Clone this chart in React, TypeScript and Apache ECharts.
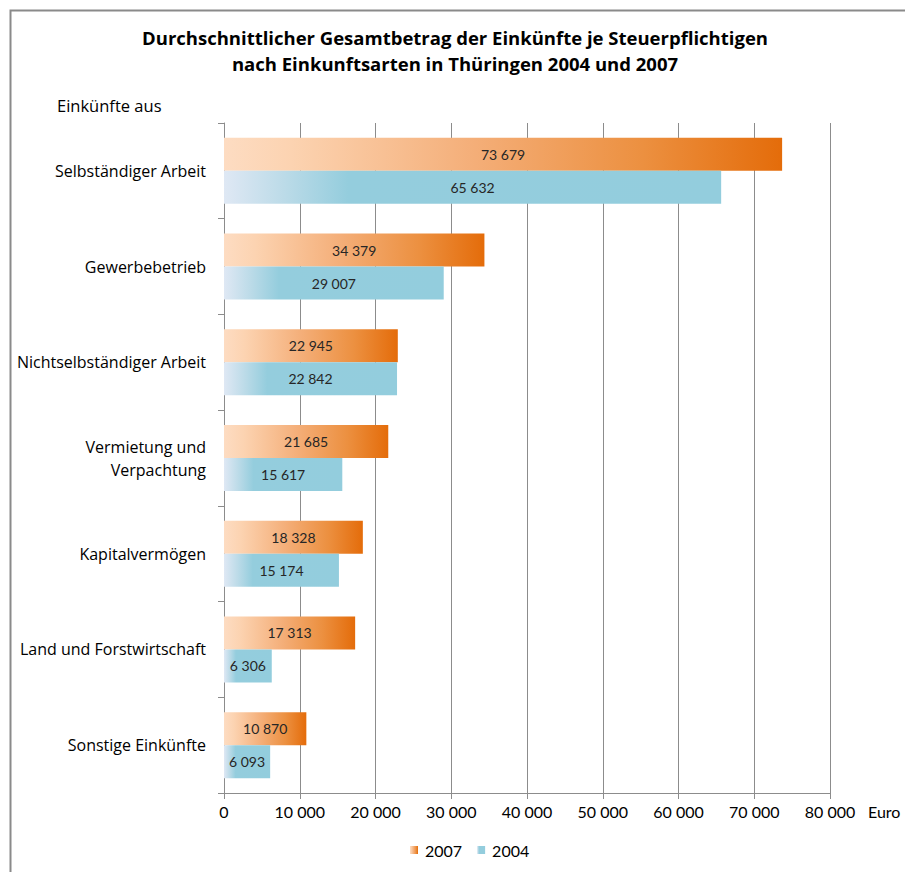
import React, { useEffect, useRef } from "react";
import * as echarts from "echarts";

const titleLines = [
  "Durchschnittlicher Gesamtbetrag der Einkünfte je Steuerpflichtigen",
  "nach Einkunftsarten in Thüringen 2004 und 2007",
];
const categoryHeader = "Einkünfte aus";
const categories = [
  "Selbständiger Arbeit",
  "Gewerbebetrieb",
  "Nichtselbständiger Arbeit",
  "Vermietung und\nVerpachtung",
  "Kapitalvermögen",
  "Land und Forstwirtschaft",
  "Sonstige Einkünfte",
];
const values2007 = [73679, 34379, 22945, 21685, 18328, 17313, 10870];
const values2004 = [65632, 29007, 22842, 15617, 15174, 6306, 6093];
const seriesNames = ["2007", "2004"];
const axisMin = 0;
const axisMax = 80000;
const axisInterval = 10000;
const unitLabel = "Euro";

const FONT = "'Open Sans', 'Noto Sans', sans-serif";
const NUMFONT = "Lato, 'Noto Sans', sans-serif";

const fmt = (v: number) =>
  String(Math.round(v)).replace(/\B(?=(\d{3})+(?!\d))/g, " ");

export default function App() {
  const ref = useRef<HTMLDivElement>(null);

  useEffect(() => {
    if (!ref.current) return;
    const chart = echarts.init(ref.current, undefined, { renderer: "svg" });

    const orange = new echarts.graphic.LinearGradient(0, 0, 1, 0, [
      { offset: 0, color: "#fddcc2" },
      { offset: 0.12, color: "#fcd3b1" },
      { offset: 0.45, color: "#f4ae78" },
      { offset: 0.75, color: "#ec9040" },
      { offset: 1, color: "#e46c0a" },
    ]);
    const blue = new echarts.graphic.LinearGradient(0, 0, 1, 0, [
      { offset: 0, color: "#dfe8f4" },
      { offset: 0.12, color: "#bcdbe8" },
      { offset: 0.25, color: "#94cddd" },
      { offset: 1, color: "#93cddd" },
    ]);

    const labelStyle = {
      show: true,
      position: "inside" as const,
      color: "#262626",
      fontFamily: NUMFONT,
      fontSize: 14,
      formatter: (p: any) => fmt(p.value),
    };

    chart.setOption({
      animation: false,
      backgroundColor: "#ffffff",
      title: [
        {
          text: titleLines.join("\n"),
          left: 455,
          textAlign: "center",
          top: 24,
          padding: 0,
          textStyle: {
            fontFamily: FONT,
            fontSize: 18.5,
            fontWeight: "bold",
            color: "#000",
            lineHeight: 26,
          },
        },
        {
          text: categoryHeader,
          left: 57,
          top: 97,
          padding: 0,
          textStyle: {
            fontFamily: FONT,
            fontSize: 16.5,
            fontWeight: "normal",
            color: "#000",
          },
        },
      ],
      legend: {
        data: seriesNames,
        left: 405,
        top: 837,
        itemWidth: 8,
        itemHeight: 8,
        itemGap: 15,
        icon: "rect",
        textStyle: { fontFamily: NUMFONT, fontSize: 16, color: "#000", padding: [0, 0, 0, 2] },
      },
      grid: { left: 224, right: 75, top: 123, bottom: 79 },
      xAxis: {
        type: "value",
        min: axisMin,
        max: axisMax,
        interval: axisInterval,
        name: unitLabel,
        nameLocation: "end",
        nameGap: 38,
        nameTextStyle: {
          fontFamily: NUMFONT,
          fontSize: 16,
          color: "#000",
          verticalAlign: "top",
          padding: [10, 0, 0, 0],
        },
        axisLine: { show: true, lineStyle: { color: "#8c8c8c", width: 1 } },
        axisTick: { show: true, length: 6, lineStyle: { color: "#8c8c8c" } },
        splitLine: { show: true, lineStyle: { color: "#8c8c8c", width: 1 } },
        axisLabel: {
          margin: 10,
          fontFamily: NUMFONT,
          fontSize: 16,
          color: "#000",
          formatter: (v: number) => fmt(v),
        },
      },
      yAxis: {
        type: "category",
        data: categories,
        inverse: true,
        axisLine: { show: true, lineStyle: { color: "#8c8c8c", width: 1 } },
        axisTick: { show: true, length: 6, lineStyle: { color: "#8c8c8c" } },
        axisLabel: {
          margin: 18,
          fontFamily: FONT,
          fontSize: 16,
          color: "#000",
          lineHeight: 23,
          align: "right",
        },
      },
      series: [
        {
          name: seriesNames[0],
          type: "bar",
          data: values2007,
          barWidth: 33,
          barGap: "0%",
          itemStyle: { color: orange },
          label: labelStyle,
        },
        {
          name: seriesNames[1],
          type: "bar",
          data: values2004,
          barWidth: 33,
          barGap: "0%",
          itemStyle: { color: blue },
          label: labelStyle,
        },
      ],
      graphic: [
        {
          type: "rect",
          left: 8,
          top: 8,
          shape: { x: 0, y: 0, width: 1000, height: 1000 },
          style: { fill: "none", stroke: "#8a8a8a", lineWidth: 2 },
          silent: true,
          z: 100,
        },
      ],
    });

    return () => chart.dispose();
  }, []);

  return (
    <div
      ref={ref}
      style={{ position: "absolute", left: 0, top: 0, width: 905, height: 872 }}
    />
  );
}
